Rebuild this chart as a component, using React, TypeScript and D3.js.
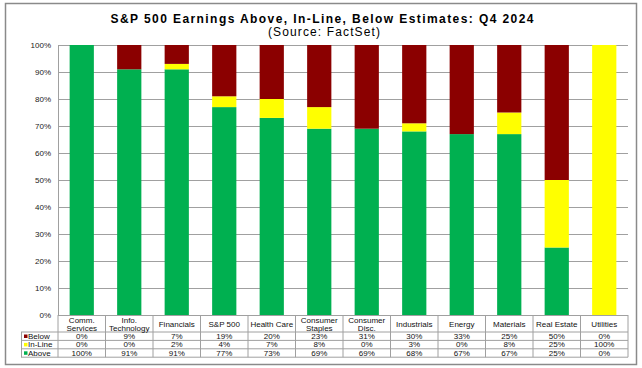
import React, { useEffect, useRef } from "react";
import * as d3 from "d3";

const categories = [
  "Comm.\nServices",
  "Info.\nTechnology",
  "Financials",
  "S&P 500",
  "Health Care",
  "Consumer\nStaples",
  "Consumer\nDisc.",
  "Industrials",
  "Energy",
  "Materials",
  "Real Estate",
  "Utilities",
];
const below = [0, 9, 7, 19, 20, 23, 31, 30, 33, 25, 50, 0];
const inLine = [0, 0, 2, 4, 7, 8, 0, 3, 0, 8, 25, 100];
const above = [100, 91, 91, 77, 73, 69, 69, 68, 67, 67, 25, 0];
const yTicks = [0, 10, 20, 30, 40, 50, 60, 70, 80, 90, 100];

const W = 642;
const H = 368;

const App = () => {
  const ref = useRef<SVGSVGElement>(null);

  useEffect(() => {
    const svg = d3.select(ref.current);
    svg.selectAll("*").remove();

    const left = 58, right = 628, top = 45, bottom = 315;
    const font = "Arial, 'Liberation Sans', sans-serif";
    const grid = "#a0a0a0";

    // outer frame
    svg.append("rect")
      .attr("x", 5.5).attr("y", 3.5).attr("width", 631).attr("height", 361)
      .attr("fill", "white").attr("stroke", "#8a8a8a").attr("stroke-width", 1.5);

    svg.append("text")
      .attr("x", 322).attr("y", 22.5).attr("text-anchor", "middle")
      .attr("font-family", font).attr("font-size", 12).attr("font-weight", "bold")
      .attr("textLength", 423).attr("lengthAdjust", "spacing")
      .text("S&P 500 Earnings Above, In-Line, Below Estimates: Q4 2024");
    svg.append("text")
      .attr("x", 324).attr("y", 36).attr("text-anchor", "middle")
      .attr("font-family", font).attr("font-size", 12)
      .attr("textLength", 112).attr("lengthAdjust", "spacing")
      .text("(Source: FactSet)");

    const cell = d3.scaleBand<number>().domain(d3.range(categories.length)).range([left, right]);
    const x = d3.scaleBand<number>().domain(d3.range(categories.length)).range([left, right])
      .paddingInner(0.49).paddingOuter(0.245);
    const y = d3.scaleLinear().domain([0, 100]).range([bottom, top]).clamp(true);

    // gridlines + y labels
    svg.append("g").selectAll("line").data(yTicks).enter().append("line")
      .attr("x1", left).attr("x2", right)
      .attr("y1", d => y(d) + 0.5).attr("y2", d => y(d) + 0.5)
      .attr("stroke", grid).attr("stroke-width", 1);
    svg.append("g").selectAll("text").data(yTicks).enter().append("text")
      .attr("x", 51).attr("y", d => y(d) + 3).attr("text-anchor", "end")
      .attr("font-family", font).attr("font-size", 8).attr("fill", "#222")
      .text(d => d + "%");
    svg.append("line")
      .attr("x1", left + 0.5).attr("x2", left + 0.5).attr("y1", top).attr("y2", bottom)
      .attr("stroke", grid);

    // stacked bars
    const rows = categories.map((c, i) => ({ i, above: above[i], inLine: inLine[i], below: below[i] }));
    const stack = d3.stack<any>().keys(["above", "inLine", "below"])(rows);
    const colors: Record<string, string> = { above: "#00b050", inLine: "#ffff00", below: "#8b0000" };
    stack.forEach(layer => {
      svg.append("g").selectAll("rect").data(layer).enter().append("rect")
        .attr("x", (d: any) => x(d.data.i)!)
        .attr("width", x.bandwidth())
        .attr("y", (d: any) => y(d[1]))
        .attr("height", (d: any) => y(d[0]) - y(d[1]))
        .attr("fill", colors[layer.key]);
    });

    // data table
    const tTop = 315, hdrBottom = 332, rowH = 8.4;
    const tLeft = 21;
    const series = [
      { name: "Below", values: below, color: "#8b0000" },
      { name: "In-Line", values: inLine, color: "#ffff00" },
      { name: "Above", values: above, color: "#00b050" },
    ];
    const tBottom = hdrBottom + rowH * series.length;
    const t = svg.append("g");
    t.append("line").attr("x1", left).attr("x2", right).attr("y1", tTop + 0.5).attr("y2", tTop + 0.5).attr("stroke", grid);
    [hdrBottom, hdrBottom + rowH, hdrBottom + 2 * rowH, tBottom].forEach(yy => {
      t.append("line").attr("x1", tLeft).attr("x2", right).attr("y1", yy).attr("y2", yy).attr("stroke", grid);
    });
    t.append("line").attr("x1", tLeft + 0.5).attr("x2", tLeft + 0.5).attr("y1", hdrBottom).attr("y2", tBottom).attr("stroke", grid);
    d3.range(categories.length + 1).forEach(k => {
      const xx = k < categories.length ? cell(k)! : right;
      t.append("line").attr("x1", xx).attr("x2", xx).attr("y1", tTop).attr("y2", tBottom).attr("stroke", grid);
    });
    categories.forEach((c, i) => {
      const lines = c.split("\n");
      const cx = cell(i)! + cell.bandwidth() / 2;
      const base = lines.length === 1 ? 326.5 : 322.5;
      lines.forEach((ln, k) => {
        t.append("text").attr("x", cx).attr("y", base + k * 8)
          .attr("text-anchor", "middle").attr("font-family", font).attr("font-size", 8).attr("fill", "#111")
          .text(ln);
      });
    });
    series.forEach((s, r) => {
      const yy = hdrBottom + r * rowH;
      t.append("rect").attr("x", 24).attr("y", yy + 2.5).attr("width", 3.5).attr("height", 3.5).attr("fill", s.color);
      t.append("text").attr("x", 28).attr("y", yy + 7).attr("font-family", font).attr("font-size", 8).attr("fill", "#111")
        .text(s.name);
      s.values.forEach((v, i) => {
        t.append("text").attr("x", cell(i)! + cell.bandwidth() / 2).attr("y", yy + 7)
          .attr("text-anchor", "middle").attr("font-family", font).attr("font-size", 8).attr("fill", "#111")
          .text(v + "%");
      });
    });
  }, []);

  return <svg ref={ref} width={W} height={H} style={{ display: "block", position: "absolute", left: 0, top: 0 }}></svg>;
};

export default App;
